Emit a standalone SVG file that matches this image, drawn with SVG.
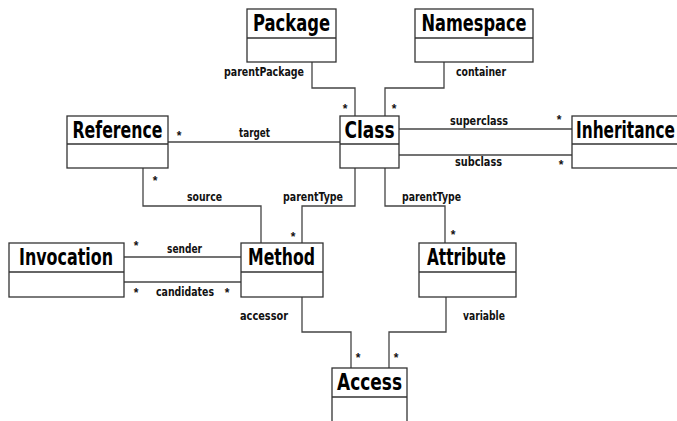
<svg xmlns="http://www.w3.org/2000/svg" width="677" height="421" viewBox="0 0 677 421">
<style>
.box{fill:#fff;stroke:#333;stroke-width:1.3}
.div{stroke:#333;stroke-width:1.3}
.con{fill:none;stroke:#444;stroke-width:1.3}
.t{font-family:"Liberation Sans Narrow","DejaVu Sans Condensed","Liberation Sans",sans-serif;font-weight:bold;font-size:23px;fill:#000;text-anchor:middle;font-stretch:condensed}
.l{font-family:"Liberation Sans Narrow","DejaVu Sans Condensed","Liberation Sans",sans-serif;font-weight:bold;font-size:13px;fill:#111;text-anchor:middle;font-stretch:condensed}
.m{font-family:"Liberation Sans","DejaVu Sans",sans-serif;font-weight:bold;font-size:12px;fill:#111;text-anchor:middle}
</style>
<rect width="677" height="421" fill="#fff"/>
<g id="connectors">
<polyline class="con" points="312,62 312,88 355,88 355,116"/>
<polyline class="con" points="444,62 444,88 385,88 385,116"/>
<line class="con" x1="168" y1="142" x2="340" y2="142"/>
<line class="con" x1="399" y1="129" x2="572" y2="129"/>
<line class="con" x1="399" y1="155" x2="572" y2="155"/>
<polyline class="con" points="143,168 143,206 261,206 261,243"/>
<polyline class="con" points="355,168 355,206 302,206 302,243"/>
<polyline class="con" points="385,168 385,206 445,206 445,243"/>
<line class="con" x1="124" y1="257" x2="241" y2="257"/>
<line class="con" x1="124" y1="282" x2="241" y2="282"/>
<polyline class="con" points="302,297 302,332 351,332 351,368"/>
<polyline class="con" points="446,297 446,332 389,332 389,368"/>
<text class="l" x="264" y="76" textLength="80" lengthAdjust="spacingAndGlyphs">parentPackage</text>
<text class="l" x="481" y="76" textLength="50" lengthAdjust="spacingAndGlyphs">container</text>
<text class="l" x="254.5" y="137" textLength="31" lengthAdjust="spacingAndGlyphs">target</text>
<text class="l" x="479" y="125" textLength="58" lengthAdjust="spacingAndGlyphs">superclass</text>
<text class="l" x="478.5" y="166" textLength="47" lengthAdjust="spacingAndGlyphs">subclass</text>
<text class="l" x="204.5" y="201" textLength="35" lengthAdjust="spacingAndGlyphs">source</text>
<text class="l" x="313" y="201" textLength="60" lengthAdjust="spacingAndGlyphs">parentType</text>
<text class="l" x="431.5" y="201" textLength="59" lengthAdjust="spacingAndGlyphs">parentType</text>
<text class="l" x="184.5" y="252.5" textLength="35" lengthAdjust="spacingAndGlyphs">sender</text>
<text class="l" x="185" y="296" textLength="58" lengthAdjust="spacingAndGlyphs">candidates</text>
<text class="l" x="264" y="320" textLength="48" lengthAdjust="spacingAndGlyphs">accessor</text>
<text class="l" x="484" y="320" textLength="42" lengthAdjust="spacingAndGlyphs">variable</text>
<text class="m" x="345" y="113">*</text>
<text class="m" x="394" y="113">*</text>
<text class="m" x="179" y="140">*</text>
<text class="m" x="155" y="185">*</text>
<text class="m" x="559" y="124">*</text>
<text class="m" x="561" y="169">*</text>
<text class="m" x="293" y="241">*</text>
<text class="m" x="453" y="239">*</text>
<text class="m" x="136" y="250">*</text>
<text class="m" x="136" y="297">*</text>
<text class="m" x="227" y="297">*</text>
<text class="m" x="358" y="362">*</text>
<text class="m" x="396" y="362">*</text>
</g>
<g id="Package">
<rect class="box" x="247" y="9" width="89" height="53"/>
<line class="div" x1="247" y1="38" x2="336" y2="38"/>
<text class="t" x="291.5" y="31" textLength="77" lengthAdjust="spacingAndGlyphs">Package</text>
</g>
<g id="Namespace">
<rect class="box" x="415" y="9" width="118" height="53"/>
<line class="div" x1="415" y1="38" x2="533" y2="38"/>
<text class="t" x="474" y="31" textLength="105" lengthAdjust="spacingAndGlyphs">Namespace</text>
</g>
<g id="Reference">
<rect class="box" x="67" y="116" width="101" height="52"/>
<line class="div" x1="67" y1="144" x2="168" y2="144"/>
<text class="t" x="117.5" y="138" textLength="90" lengthAdjust="spacingAndGlyphs">Reference</text>
</g>
<g id="Class">
<rect class="box" x="340" y="116" width="59" height="52"/>
<line class="div" x1="340" y1="144" x2="399" y2="144"/>
<text class="t" x="369.5" y="138" textLength="50" lengthAdjust="spacingAndGlyphs">Class</text>
</g>
<g id="Inheritance">
<rect class="box" x="572" y="116" width="120" height="52"/>
<line class="div" x1="572" y1="144" x2="692" y2="144"/>
<text class="t" x="625.5" y="138" textLength="99" lengthAdjust="spacingAndGlyphs">Inheritance</text>
</g>
<g id="Invocation">
<rect class="box" x="9" y="243" width="115" height="54"/>
<line class="div" x1="9" y1="272" x2="124" y2="272"/>
<text class="t" x="66" y="265" textLength="94" lengthAdjust="spacingAndGlyphs">Invocation</text>
</g>
<g id="Method">
<rect class="box" x="241" y="243" width="82" height="54"/>
<line class="div" x1="241" y1="272" x2="323" y2="272"/>
<text class="t" x="281.5" y="265" textLength="67" lengthAdjust="spacingAndGlyphs">Method</text>
</g>
<g id="Attribute">
<rect class="box" x="419" y="243" width="97" height="54"/>
<line class="div" x1="419" y1="272" x2="516" y2="272"/>
<text class="t" x="466.5" y="265" textLength="79" lengthAdjust="spacingAndGlyphs">Attribute</text>
</g>
<g id="Access">
<rect class="box" x="332" y="368" width="75" height="56"/>
<line class="div" x1="332" y1="397" x2="407" y2="397"/>
<text class="t" x="369.5" y="390" textLength="65" lengthAdjust="spacingAndGlyphs">Access</text>
</g>
</svg>
